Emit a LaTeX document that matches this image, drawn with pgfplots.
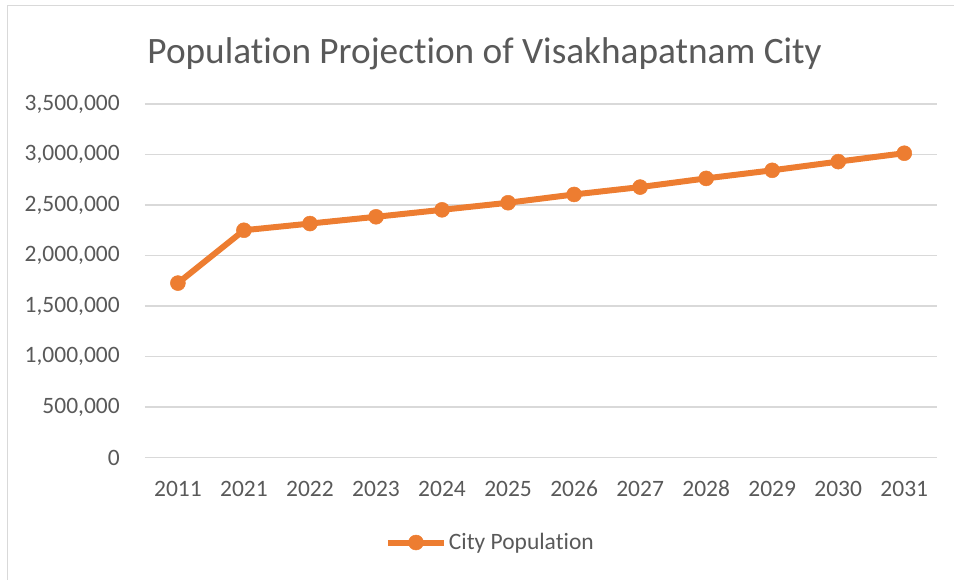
\documentclass[border=0pt]{standalone}
\usepackage{pgfplots}
\pgfplotsset{compat=1.18}
\usepackage{fontspec}
\setmainfont{Carlito}[Ligatures=NoCommon]
\definecolor{lineor}{HTML}{ED7D31}
\definecolor{gridc}{HTML}{D9D9D9}
\definecolor{txt}{HTML}{595959}
\begin{document}
\begin{tikzpicture}[x=1bp,y=1bp]
\path (0,0) rectangle (955,580);
\draw[gridc, line width=1.5bp] (7.5,0) -- (7.5,574.5) -- (955,574.5);
\begin{axis}[
  at={(145bp,122bp)}, anchor=south west,
  width=793bp, height=354bp, scale only axis,
  xmin=-0.5, xmax=11.5, ymin=0, ymax=3500000,
  xtick={0,...,11},
  xticklabels={2011,2021,2022,2023,2024,2025,2026,2027,2028,2029,2030,2031},
  ytick={0,500000,1000000,1500000,2000000,2500000,3000000,3500000},
  scaled y ticks=false,
  /pgf/number format/.cd, fixed, 1000 sep={,}, assume math mode=true, /pgfplots/.cd,
  axis line style={draw=none},
  major tick length=0pt,
  ymajorgrids, major grid style={gridc, line width=1.3bp},
  tick label style={font=\fontsize{23.5bp}{28bp}\selectfont, text=txt},
  yticklabel style={anchor=east, inner sep=0pt, xshift=-25bp},
  xticklabel style={anchor=base, inner sep=0pt, yshift=-38.7bp},
  clip=false,
  legend style={at={(0.436,-0.24)}, anchor=center, draw=none, fill=none,
    font=\fontsize{23.5bp}{28bp}\selectfont, text=txt,
    /tikz/every even column/.append style={column sep=0pt}},
  legend cell align=left,
  legend image code/.code={\draw[mark repeat=2,mark phase=2,#1] plot coordinates {(0bp,0bp) (28bp,0bp) (56bp,0bp)};},
]
\addplot[lineor, line width=6bp, mark=*, mark size=7.5bp, mark options={fill=lineor, draw=lineor, line width=0.5bp}]
coordinates {
(0,1727000) (1,2250000) (2,2316000) (3,2383000) (4,2452000) (5,2522000)
(6,2604000) (7,2677000) (8,2763000) (9,2843000) (10,2929000) (11,3012000)
};
\addlegendentry{City Population}
\end{axis}
\node[anchor=base, text=txt, font=\fontsize{37.3bp}{42bp}\selectfont, inner sep=0pt] at (485,516.7) {Population Projection of Visakhapatnam City};
\end{tikzpicture}
\end{document}
